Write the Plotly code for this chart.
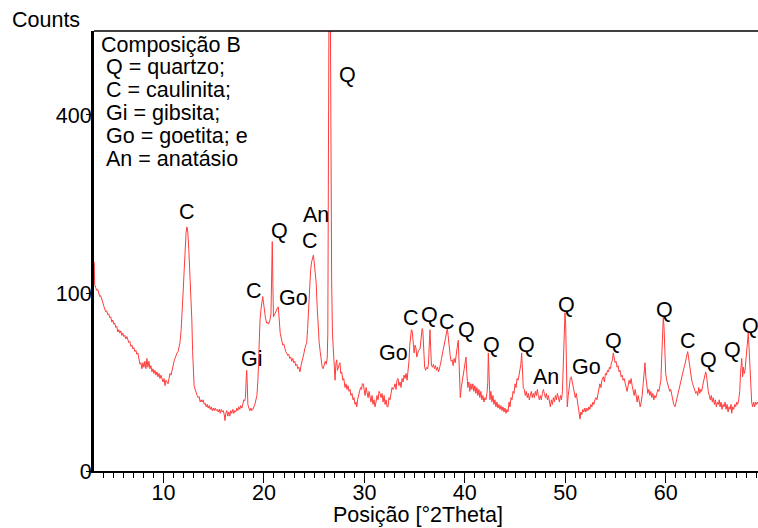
import numpy as np
import plotly.graph_objects as go

# ---- diffraction pattern (2theta in degrees, intensity in counts) ----
two_theta = [
    3.10, 3.15, 3.25, 3.35, 3.45, 3.55, 3.65, 3.75, 3.85, 3.95,
    4.05, 4.15, 4.25, 4.35, 4.45, 4.55, 4.65, 4.75, 4.85, 4.95,
    5.05, 5.15, 5.25, 5.35, 5.45, 5.55, 5.65, 5.75, 5.85, 5.95,
    6.05, 6.15, 6.25, 6.35, 6.45, 6.55, 6.65, 6.75, 6.85, 6.95,
    7.05, 7.15, 7.25, 7.35, 7.45, 7.55, 7.65, 7.75, 7.85, 7.95,
    8.05, 8.15, 8.25, 8.35, 8.45, 8.55, 8.65, 8.75, 8.85, 8.95,
    9.05, 9.15, 9.25, 9.35, 9.45, 9.55, 9.65, 9.75, 9.85, 9.95,
    10.05, 10.15, 10.25, 10.35, 10.45, 10.55, 10.65, 10.75, 10.85, 10.95,
    11.05, 11.15, 11.25, 11.35, 11.45, 11.55, 11.64, 11.75, 11.85, 11.95,
    12.05, 12.15, 12.25, 12.33, 12.42, 12.52, 12.62, 12.72, 12.82, 12.90,
    12.97, 13.05, 13.15, 13.25, 13.35, 13.45, 13.55, 13.65, 13.75, 13.85,
    13.95, 14.05, 14.15, 14.25, 14.35, 14.45, 14.55, 14.65, 14.75, 14.85,
    14.95, 15.05, 15.15, 15.25, 15.35, 15.45, 15.55, 15.65, 15.75, 15.85,
    15.95, 16.05, 16.12, 16.20, 16.30, 16.40, 16.50, 16.60, 16.70, 16.80,
    16.90, 17.00, 17.10, 17.20, 17.30, 17.40, 17.50, 17.60, 17.70, 17.80,
    17.90, 18.00, 18.08, 18.16, 18.22, 18.28, 18.34, 18.40, 18.50, 18.60,
    18.70, 18.80, 18.90, 19.00, 19.10, 19.20, 19.30, 19.40, 19.50, 19.61,
    19.70, 19.80, 19.88, 19.95, 20.05, 20.15, 20.27, 20.35, 20.45, 20.60,
    20.70, 20.77, 20.83, 20.89, 20.95, 21.05, 21.15, 21.27, 21.35, 21.43,
    21.52, 21.62, 21.77, 21.87, 21.97, 22.07, 22.17, 22.27, 22.37, 22.47,
    22.57, 22.67, 22.77, 22.87, 22.97, 23.07, 23.17, 23.27, 23.37, 23.47,
    23.59, 23.69, 23.79, 23.89, 23.99, 24.09, 24.19, 24.26, 24.35, 24.45,
    24.55, 24.65, 24.75, 24.85, 24.92, 25.00, 25.10, 25.20, 25.30, 25.40,
    25.50, 25.60, 25.70, 25.80, 25.90, 26.00, 26.10, 26.20, 26.30, 26.36,
    26.42, 26.50, 26.58, 26.66, 26.74, 26.82, 26.91, 27.00, 27.08, 27.16,
    27.24, 27.32, 27.40, 27.50, 27.57, 27.65, 27.75, 27.85, 27.95, 28.07,
    28.17, 28.27, 28.37, 28.47, 28.57, 28.67, 28.77, 28.87, 28.97, 29.07,
    29.17, 29.24, 29.32, 29.42, 29.52, 29.62, 29.72, 29.80, 29.89, 29.97,
    30.07, 30.17, 30.27, 30.37, 30.47, 30.56, 30.66, 30.76, 30.86, 30.96,
    31.06, 31.16, 31.26, 31.36, 31.46, 31.56, 31.66, 31.76, 31.86, 31.96,
    32.06, 32.16, 32.26, 32.35, 32.45, 32.55, 32.65, 32.75, 32.85, 32.95,
    33.05, 33.15, 33.25, 33.35, 33.45, 33.55, 33.65, 33.75, 33.85, 33.95,
    34.05, 34.15, 34.25, 34.34, 34.44, 34.52, 34.60, 34.68, 34.76, 34.85,
    34.95, 35.05, 35.15, 35.21, 35.30, 35.40, 35.54, 35.65, 35.75, 35.82,
    35.90, 36.00, 36.10, 36.20, 36.30, 36.38, 36.46, 36.53, 36.60, 36.68,
    36.78, 36.88, 36.98, 37.08, 37.18, 37.28, 37.38, 37.48, 37.58, 37.68,
    37.78, 37.88, 37.98, 38.08, 38.18, 38.26, 38.34, 38.44, 38.54, 38.64,
    38.74, 38.84, 38.94, 39.04, 39.14, 39.24, 39.35, 39.45, 39.55, 39.65,
    39.75, 39.85, 39.95, 40.05, 40.12, 40.20, 40.30, 40.40, 40.50, 40.60,
    40.70, 40.80, 40.90, 41.00, 41.10, 41.20, 41.30, 41.40, 41.50, 41.60,
    41.70, 41.80, 41.90, 42.00, 42.10, 42.20, 42.28, 42.34, 42.41, 42.50,
    42.60, 42.70, 42.80, 42.90, 43.00, 43.10, 43.20, 43.30, 43.40, 43.50,
    43.60, 43.70, 43.80, 43.90, 44.00, 44.10, 44.20, 44.30, 44.40, 44.50,
    44.60, 44.70, 44.80, 44.90, 45.00, 45.10, 45.20, 45.30, 45.40, 45.50,
    45.58, 45.66, 45.73, 45.82, 45.92, 46.02, 46.12, 46.22, 46.32, 46.42,
    46.52, 46.62, 46.72, 46.82, 46.92, 47.02, 47.12, 47.22, 47.32, 47.42,
    47.52, 47.62, 47.72, 47.82, 47.92, 48.02, 48.12, 48.22, 48.32, 48.42,
    48.52, 48.62, 48.72, 48.82, 48.92, 49.02, 49.12, 49.22, 49.32, 49.42,
    49.52, 49.62, 49.72, 49.80, 49.88, 49.97, 50.04, 50.12, 50.20, 50.30,
    50.40, 50.50, 50.60, 50.70, 50.80, 50.90, 51.00, 51.10, 51.20, 51.30,
    51.40, 51.47, 51.55, 51.65, 51.75, 51.85, 51.95, 52.05, 52.15, 52.25,
    52.35, 52.45, 52.55, 52.65, 52.75, 52.85, 52.95, 53.05, 53.15, 53.25,
    53.35, 53.45, 53.55, 53.65, 53.79, 53.90, 54.00, 54.10, 54.20, 54.30,
    54.40, 54.50, 54.60, 54.70, 54.78, 54.86, 54.96, 55.06, 55.16, 55.26,
    55.36, 55.46, 55.56, 55.66, 55.76, 55.86, 55.96, 56.06, 56.16, 56.26,
    56.36, 56.46, 56.56, 56.66, 56.76, 56.86, 56.96, 57.06, 57.16, 57.26,
    57.36, 57.46, 57.56, 57.66, 57.76, 57.86, 57.94, 58.02, 58.12, 58.22,
    58.32, 58.42, 58.52, 58.62, 58.72, 58.82, 58.92, 59.02, 59.12, 59.22,
    59.32, 59.43, 59.52, 59.60, 59.68, 59.76, 59.84, 59.92, 60.00, 60.10,
    60.20, 60.30, 60.40, 60.50, 60.60, 60.70, 60.80, 60.93, 61.03, 61.13,
    61.23, 61.33, 61.43, 61.53, 61.63, 61.73, 61.83, 61.92, 62.02, 62.10,
    62.19, 62.27, 62.37, 62.47, 62.59, 62.69, 62.79, 62.89, 62.99, 63.09,
    63.19, 63.29, 63.39, 63.49, 63.58, 63.68, 63.78, 63.88, 63.98, 64.06,
    64.14, 64.24, 64.34, 64.44, 64.54, 64.64, 64.74, 64.84, 64.94, 65.04,
    65.14, 65.24, 65.34, 65.41, 65.51, 65.61, 65.71, 65.81, 65.91, 66.01,
    66.11, 66.21, 66.31, 66.41, 66.51, 66.57, 66.67, 66.77, 66.87, 66.97,
    67.07, 67.17, 67.27, 67.37, 67.45, 67.57, 67.66, 67.74, 67.82, 67.90,
    68.00, 68.08, 68.16, 68.22, 68.30, 68.38, 68.46, 68.56, 68.66, 68.76,
    68.86, 68.96, 69.06, 69.16, 69.26,
]

counts = [
    138, 110, 106, 103, 104, 99, 96, 97, 92, 90,
    86, 82, 80, 81, 77, 78, 74, 75, 70, 72,
    68, 69, 65, 66, 61, 63, 60, 62, 58, 60,
    57, 58, 55, 57, 54, 52, 53, 49, 50, 47,
    48, 45, 46, 43, 44, 39, 36, 37, 33, 37,
    34, 38, 33, 40, 34, 38, 33, 35, 31, 33,
    30, 32, 29, 31, 28, 30, 27, 29, 26, 25,
    27, 23, 26, 25, 24, 27, 30, 29, 32, 36,
    38, 40, 43, 44, 45, 48, 52, 62, 75, 100,
    125, 155, 180, 188, 180, 155, 128, 100, 72, 45,
    27, 23, 21, 19, 18, 17, 17.5, 15, 16, 15,
    16, 14, 14.5, 13, 14, 12.5, 13.5, 12, 13, 11.5,
    12.5, 11.5, 12.5, 11.5, 12, 11, 12, 10.5, 12, 11,
    11.5, 10, 8, 10.5, 11.5, 9.5, 11, 9.5, 11.5, 10.5,
    12, 10.5, 11.5, 11, 12.5, 11.5, 13, 12, 13.5, 12.5,
    14.5, 16, 15.5, 17, 25, 32, 24, 14, 12.5, 11.5,
    12.5, 11.5, 12, 13, 14, 16, 18, 26, 50, 72,
    82, 90, 96, 90, 80, 74, 69, 70, 68, 72,
    78, 110, 166, 110, 75, 77, 80, 82, 84, 85,
    74, 60, 54, 50, 51, 47, 45, 44, 42, 43,
    40, 41, 38, 40, 37, 38, 35, 36, 33, 34,
    31, 35, 38, 39, 44, 48, 50, 52, 64, 85,
    112, 128, 138, 145, 147, 138, 125, 112, 85, 65,
    52, 45, 38, 34, 33, 36, 38, 36, 40, 60,
    300, 900, 900, 320, 115, 60, 44, 38, 26, 36,
    39, 32, 35, 36, 37, 30, 31, 26, 27, 22,
    24, 21, 23, 20, 21, 18, 19, 16, 17, 14,
    15, 13, 16, 18, 20, 22, 21, 24, 24, 20,
    18, 22, 19, 17, 20, 17, 15, 18, 14, 16,
    13, 15, 18, 16, 20, 19, 17, 19, 15, 18,
    14, 16, 13, 13, 17, 16, 20, 22, 21, 22,
    24, 21, 26, 27, 23, 25, 22, 27, 25, 29,
    27, 30, 26, 30, 38, 50, 60, 63, 62, 50,
    44, 50, 47, 41, 43, 46, 47, 56, 64, 62,
    45, 34, 32, 34, 33, 36, 50, 63, 48, 35,
    34, 36, 33, 35, 32, 34, 31, 33, 36, 40,
    44, 47, 50, 56, 60, 64, 58, 48, 42, 38,
    39, 35, 40, 37, 45, 48, 54, 36, 17, 22,
    26, 28, 33, 38, 41, 30, 22, 25, 20, 24,
    21, 24, 20, 23, 19, 22, 18, 21, 17, 20,
    16, 18, 15, 17, 16, 19, 24, 44, 30, 16,
    20, 15, 18, 14, 16, 13, 15, 12.5, 14, 12,
    13.5, 11.5, 13, 11, 12.5, 10.5, 12, 11, 15, 13,
    17, 16, 20, 19, 24, 22, 27, 26, 29, 32,
    36, 44, 36, 22, 21, 18, 20, 17, 19, 16,
    18, 20, 17, 19, 17, 20, 18, 21, 18, 16,
    18, 16, 19, 21, 19, 17, 19, 16, 18, 15,
    13, 16, 14, 17, 15, 18, 16, 19, 17, 15,
    18, 16, 20, 35, 62, 79, 68, 42, 13, 18,
    24, 27, 28, 25, 22, 20, 17, 19, 15, 12,
    10, 8.5, 11, 10, 12, 11, 12.5, 11, 12.5, 11.5,
    13, 12, 14, 13, 15, 14, 16, 17, 16, 19,
    21, 24, 22, 26, 28, 25, 30, 29, 32, 31,
    34, 33, 37, 39, 44, 40, 37, 38, 34, 35,
    31, 32, 28, 29, 26, 27, 24, 22, 20, 23,
    26, 24, 27, 23, 20, 18, 21, 17, 15, 18,
    14, 13, 15, 18, 24, 31, 37, 28, 22, 19,
    21, 18, 20, 17, 19, 16, 18, 17, 19, 21,
    20, 23, 26, 40, 62, 75, 64, 42, 30, 26,
    24, 22, 20, 21, 18, 16, 14, 13, 15, 17,
    19, 22, 24, 27, 29, 31, 34, 36, 39, 42,
    45, 41, 36, 30, 26, 24, 22, 20, 19, 20,
    18, 22, 19, 21, 20, 23, 26, 28, 31, 29,
    24, 20, 18, 16, 18, 15, 17, 14, 16, 13,
    15, 14, 16, 13, 15, 12, 14, 13, 15, 12,
    14, 11, 13, 12, 14, 10.5, 13, 12, 14, 13,
    15, 14, 16, 20, 30, 40, 28, 34, 30, 32,
    40, 50, 58, 60, 48, 32, 20, 15, 13, 15,
    13, 15, 14, 15, 14,
]
assert len(two_theta) == len(counts)

# ---- axis ticks (y axis is a square-root intensity scale) ----
x_range = [3.08, 69.19]
y_max_counts = 611
y_tick_counts = [0, 100, 400]
y_tick_labels = ["0", "100", "400"]

# ---- phase labels over the peaks ----
peak_labels = ["C", "Gi", "C", "Q", "Go", "C", "An", "Q", "Go", "C", "Q", "C",
               "Q", "Q", "Q", "An", "Q", "Go", "Q", "Q", "C", "Q", "Q", "Q"]
peak_label_x = [12.31, 18.78, 19.04, 21.53, 22.92, 24.59, 25.15, 28.27, 32.88, 34.64, 36.53, 38.26,
                40.19, 42.68, 46.16, 48.08, 50.14, 52.07, 54.78, 59.93, 62.19, 64.24, 66.67, 68.46]
peak_label_counts = [212, 39.6, 102, 182, 95, 167, 207, 495, 43.7, 74, 76.8, 70.4,
                     62.7, 50.1, 50.1, 27.9, 87, 34.1, 53.6, 81.8, 53.6, 38.9, 46.2, 66.4]

legend_lines = ["Composição B", "Q = quartzo;", "C = caulinita;", "Gi = gibsita;",
                "Go = goetita; e", "An = anatásio"]

FONT = "Liberation Sans, Arial, sans-serif"
FS = 21.5

fig = go.Figure()
fig.add_trace(go.Scatter(
    x=two_theta, y=np.sqrt(counts), mode="lines",
    line=dict(color="#ff3c3c", width=1), hoverinfo="skip",
))

# plot-area pixel geometry
L, R, T, B, W, H = 94, 0, 31, 57, 758, 528
pw, ph = W - L - R, H - T - B


def px(xp):
    return (xp - L) / pw


def py(yp):
    return (H - B - yp) / ph


annotations = []
for t, xv, cv in zip(peak_labels, peak_label_x, peak_label_counts):
    annotations.append(dict(x=xv, y=float(np.sqrt(cv)), xref="x", yref="y", text=t,
                            showarrow=False, xanchor="center", yanchor="middle",
                            font=dict(family=FONT, size=FS, color="black")))

legend_x = [99, 104, 104, 104, 104, 104]
legend_y = [45, 67, 89.5, 113, 136, 159]
for t, xl, yl in zip(legend_lines, legend_x, legend_y):
    annotations.append(dict(x=px(xl), y=py(yl), xref="paper", yref="paper", text=t,
                            showarrow=False, xanchor="left", yanchor="middle",
                            font=dict(family=FONT, size=FS, color="black")))

annotations.append(dict(x=px(46), y=py(20), xref="paper", yref="paper", text="Counts",
                        showarrow=False, xanchor="center", yanchor="middle",
                        font=dict(family=FONT, size=FS, color="black")))
annotations.append(dict(x=px(418), y=py(515), xref="paper", yref="paper",
                        text="Posição [°2Theta]", showarrow=False,
                        xanchor="center", yanchor="middle",
                        font=dict(family=FONT, size=FS, color="black")))

fig.update_layout(
    width=W, height=H,
    margin=dict(l=L, r=R, t=T, b=B, pad=0),
    plot_bgcolor="white", paper_bgcolor="white",
    showlegend=False,
    font=dict(family=FONT, size=FS, color="black"),
    annotations=annotations,
    shapes=[dict(type="line", xref="paper", yref="paper", x0=0, x1=1, y0=1, y1=1,
                 line=dict(color="black", width=1.5))],
    xaxis=dict(
        range=x_range, tickmode="linear", tick0=0, dtick=10,
        ticks="outside", ticklen=10, tickwidth=1, tickcolor="black",
        showline=True, linewidth=2, linecolor="black",
        showgrid=False, zeroline=False, ticklabelstandoff=-9,
        tickfont=dict(family=FONT, size=FS, color="black"),
        minor=dict(tick0=0, dtick=1, ticks="outside", ticklen=5, tickwidth=1,
                   tickcolor="black", showgrid=False),
    ),
    yaxis=dict(
        range=[0, float(np.sqrt(y_max_counts))], tickmode="array",
        tickvals=[float(v) for v in np.sqrt(y_tick_counts)], ticktext=y_tick_labels,
        ticks="outside", ticklen=5, tickwidth=1, tickcolor="black",
        showline=True, linewidth=3, linecolor="black",
        showgrid=False, zeroline=False, ticklabelstandoff=-10,
        tickfont=dict(family=FONT, size=FS, color="black"),
    ),
)

fig.write_html("out.html")
